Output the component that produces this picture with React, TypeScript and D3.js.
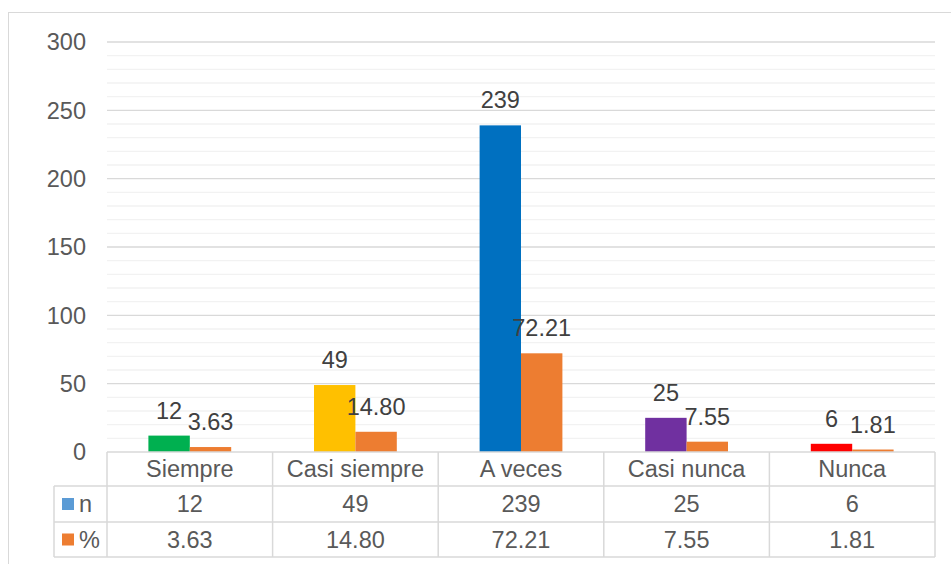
import React from "react";
import * as d3 from "d3";

const categories = ["Siempre", "Casi siempre", "A veces", "Casi nunca", "Nunca"];
const seriesNames = ["n", "%"];
const nValues = [12, 49, 239, 25, 6];
const pctValues = [3.63, 14.8, 72.21, 7.55, 1.81];
const nLabels = ["12", "49", "239", "25", "6"];
const pctLabels = ["3.63", "14.80", "72.21", "7.55", "1.81"];
const nColors = ["#00B050", "#FFC000", "#0070C0", "#7030A0", "#FF0000"];
const pctColor = "#ED7D31";
const nLegendColor = "#5B9BD5";
const yTicks = [0, 50, 100, 150, 200, 250, 300];

const W = 951;
const H = 564;
const FONT = "'Liberation Sans', Arial, sans-serif";

export default function App() {
  const left = 107;
  const right = 935;
  const top = 42;
  const bottom = 452;
  const row1 = 486;
  const row2 = 522;
  const row3 = 557;
  const legendLeft = 54;

  const y = d3.scaleLinear().domain([0, 300]).range([bottom, top]);
  const x = d3.scaleBand<string>().domain(categories).range([left, right]).padding(0);
  const cw = x.bandwidth();
  const xs = d3.scaleBand<string>().domain(seriesNames).range([cw * 0.25, cw * 0.75]).padding(0);
  const minor = d3.range(0, 301, 10).filter((v) => v % 50 !== 0);

  const vLines = categories.map((c) => x(c) as number).concat([right]);

  return (
    <svg
      width={W}
      height={H}
      style={{ position: "absolute", left: 0, top: 0, background: "#fff" }}
      fontFamily={FONT}
    >
      <rect x={8.5} y={12.5} width={W + 20} height={H + 20} fill="#fff" stroke="#D9D9D9" strokeWidth={1} />
      {minor.map((v) => (
        <line key={"m" + v} x1={left} x2={right} y1={y(v)} y2={y(v)} stroke="#F2F2F2" strokeWidth={1.3} />
      ))}
      {yTicks.map((v) => (
        <g key={"t" + v}>
          {v > 0 && <line x1={left} x2={right} y1={y(v)} y2={y(v)} stroke="#D9D9D9" strokeWidth={1.3} />}
          <text x={86} y={y(v)} dy="0.36em" textAnchor="end" fontSize={23.5} fill="#595959">
            {v}
          </text>
        </g>
      ))}
      {categories.map((c, i) => {
        const x0 = x(c) as number;
        const bw = xs.bandwidth();
        const xn = x0 + (xs("n") as number);
        const xp = x0 + (xs("%") as number);
        return (
          <g key={c}>
            <rect x={xn} y={y(nValues[i])} width={bw} height={bottom - y(nValues[i])} fill={nColors[i]} />
            <rect x={xp} y={y(pctValues[i])} width={bw} height={bottom - y(pctValues[i])} fill={pctColor} />
            <text x={xn + bw / 2} y={y(nValues[i]) - 17} textAnchor="middle" fontSize={23.5} fill="#404040">
              {nLabels[i]}
            </text>
            <text x={xp + bw / 2} y={y(pctValues[i]) - 17} textAnchor="middle" fontSize={23.5} fill="#404040">
              {pctLabels[i]}
            </text>
            <text x={x0 + cw / 2} y={(bottom + row1) / 2} dy="0.36em" textAnchor="middle" fontSize={23.5} fill="#595959">
              {c}
            </text>
            <text x={x0 + cw / 2} y={(row1 + row2) / 2} dy="0.36em" textAnchor="middle" fontSize={23.5} fill="#595959">
              {nLabels[i]}
            </text>
            <text x={x0 + cw / 2} y={(row2 + row3) / 2} dy="0.36em" textAnchor="middle" fontSize={23.5} fill="#595959">
              {pctLabels[i]}
            </text>
          </g>
        );
      })}
      {/* data table lines */}
      <line x1={left} x2={right} y1={bottom} y2={bottom} stroke="#D9D9D9" strokeWidth={1.5} />
      {[row1, row2, row3].map((r) => (
        <line key={"r" + r} x1={legendLeft} x2={right} y1={r} y2={r} stroke="#D9D9D9" strokeWidth={1.5} />
      ))}
      {vLines.map((vx, i) => (
        <line key={"v" + i} x1={vx} x2={vx} y1={bottom} y2={row3} stroke="#D9D9D9" strokeWidth={1.5} />
      ))}
      <line x1={legendLeft} x2={legendLeft} y1={row1} y2={row3} stroke="#D9D9D9" strokeWidth={1.5} />
      {/* legend keys */}
      <rect x={62} y={(row1 + row2) / 2 - 6} width={12} height={12} fill={nLegendColor} />
      <text x={79} y={(row1 + row2) / 2} dy="0.36em" fontSize={23.5} fill="#595959">
        {seriesNames[0]}
      </text>
      <rect x={62} y={(row2 + row3) / 2 - 6} width={12} height={12} fill={pctColor} />
      <text x={79} y={(row2 + row3) / 2} dy="0.36em" fontSize={23.5} fill="#595959">
        {seriesNames[1]}
      </text>
    </svg>
  );
}
